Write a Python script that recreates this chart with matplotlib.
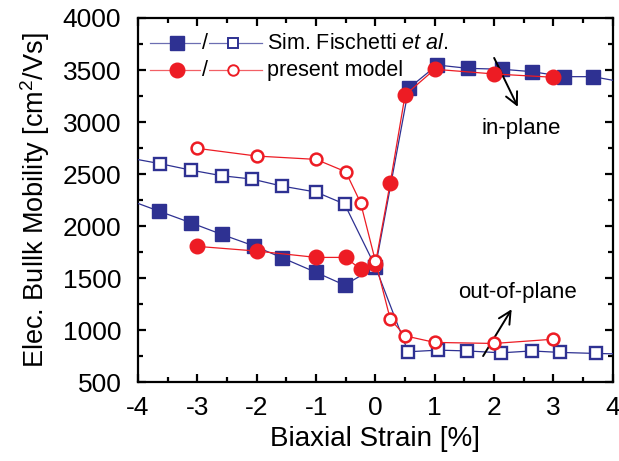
import matplotlib
matplotlib.use("Agg")
import matplotlib.pyplot as plt
from matplotlib.ticker import MultipleLocator

plt.rcParams['font.family'] = ['Liberation Sans', 'DejaVu Sans']
plt.rcParams['mathtext.fontset'] = 'custom'
plt.rcParams['mathtext.rm'] = 'Liberation Sans'
plt.rcParams['mathtext.it'] = 'Liberation Sans:italic'
plt.rcParams['axes.unicode_minus'] = False

BLUE = '#2e3192'
RED = '#ed1c24'

# Sim. Fischetti et al. - in-plane (filled squares)
fis_in_x = [-4.2, -3.65, -3.11, -2.59, -2.04, -1.57, -1.0, -0.52, 0.0, 0.56, 1.04, 1.56, 2.14, 2.64, 3.18, 3.67, 4.2]
fis_in_y = [2260, 2144, 2032, 1920, 1808, 1695, 1555, 1433, 1605, 3324, 3548, 3516, 3507, 3484, 3436, 3436, 3380]
# Sim. Fischetti et al. - out-of-plane (open squares)
fis_out_x = [-4.2, -3.63, -3.11, -2.59, -2.08, -1.58, -1.0, -0.52, 0.0, 0.55, 1.06, 1.55, 2.12, 2.63, 3.11, 3.72, 4.2]
fis_out_y = [2660, 2600, 2538, 2484, 2452, 2385, 2327, 2212, 1609, 792, 808, 800, 782, 800, 786, 776, 770]
# present model - in-plane (filled circles)
mod_in_x = [-3.0, -2.0, -1.0, -0.5, -0.25, 0.0, 0.25, 0.5, 1.0, 2.0, 3.0]
mod_in_y = [1805, 1760, 1699, 1699, 1584, 1640, 2417, 3260, 3507, 3462, 3430]
# present model - out-of-plane (open circles)
mod_out_x = [-3.0, -2.0, -1.0, -0.5, -0.25, 0.0, 0.25, 0.5, 1.0, 2.0, 3.0]
mod_out_y = [2747, 2673, 2641, 2522, 2224, 1663, 1106, 945, 882, 872, 913]

fig = plt.figure(figsize=(6.19, 4.61), dpi=100)
ax = fig.add_axes([0.223, 0.171, 0.767, 0.790])

ax.plot(fis_in_x, fis_in_y, '-', color=BLUE, lw=0.9, marker='s', ms=9.5,
        mfc=BLUE, mec=BLUE, zorder=3)
ax.plot(fis_out_x, fis_out_y, '-', color=BLUE, lw=0.9, marker='s', ms=8,
        mfc='white', mec=BLUE, mew=1.7, zorder=3)
ax.plot(mod_in_x, mod_in_y, '-', color=RED, lw=0.9, marker='o', ms=10.5,
        mfc=RED, mec=RED, zorder=4)
ax.plot(mod_out_x, mod_out_y, '-', color=RED, lw=0.9, marker='o', ms=8.5,
        mfc='white', mec=RED, mew=1.8, zorder=4)

ax.set_xlim(-4, 4)
ax.set_ylim(500, 4000)
ax.xaxis.set_major_locator(MultipleLocator(1))
ax.xaxis.set_minor_locator(MultipleLocator(0.5))
ax.yaxis.set_major_locator(MultipleLocator(500))
ax.yaxis.set_minor_locator(MultipleLocator(250))
ax.tick_params(which='both', direction='in', top=True, right=True, width=1.6)
ax.tick_params(which='major', length=6, labelsize=19)
ax.tick_params(axis='y', which='major', pad=12)
ax.tick_params(axis='x', which='major', pad=10)
ax.tick_params(which='minor', length=3.5)
for s in ax.spines.values():
    s.set_linewidth(1.6)

ax.set_xlabel('Biaxial Strain [%]', fontsize=20, labelpad=4)
ax.set_ylabel('Elec. Bullk Mobility [cm$^2$/Vs]', fontsize=19.5, labelpad=8)

# legend drawn by hand: filled / open marker pairs
leg_rows = [(0.931, 's', BLUE, 9.5, 'Sim. Fischetti $\\it{et\\ al.}$'),
            (0.857, 'o', RED, 10.5, 'present model')]
for yy, mk, col, ms, label in leg_rows:
    ax.plot([0.025, 0.262], [yy, yy], '-', color=col, lw=0.9, alpha=0.7,
            transform=ax.transAxes, zorder=5)
    ax.plot([0.082], [yy], marker=mk, ms=ms, mfc=col, mec=col,
            transform=ax.transAxes, zorder=6)
    ax.plot([0.2], [yy], marker=mk, ms=ms * 0.72, mfc='white', mec=col, mew=1.4,
            transform=ax.transAxes, zorder=6)
    ax.text(0.141, yy, '/', color='black', fontsize=15.5, ha='center', va='center',
            transform=ax.transAxes, zorder=7,
            bbox=dict(boxstyle='square,pad=0.05', fc='white', ec='none'))
    ax.text(0.272, yy, label, fontsize=15.5, ha='left', va='center',
            transform=ax.transAxes, zorder=7)

ax.annotate('', xy=(2.42, 3122), xytext=(1.98, 3640),
            arrowprops=dict(arrowstyle='->', color='black', lw=1.4,
                            mutation_scale=22))
ax.text(2.45, 2940, 'in-plane', fontsize=16, ha='center', va='center')
ax.annotate('', xy=(2.32, 1224), xytext=(1.79, 728),
            arrowprops=dict(arrowstyle='->', color='black', lw=1.4,
                            mutation_scale=22))
ax.text(2.39, 1362, 'out-of-plane', fontsize=16, ha='center', va='center')

fig.savefig('out.png', dpi=100)
